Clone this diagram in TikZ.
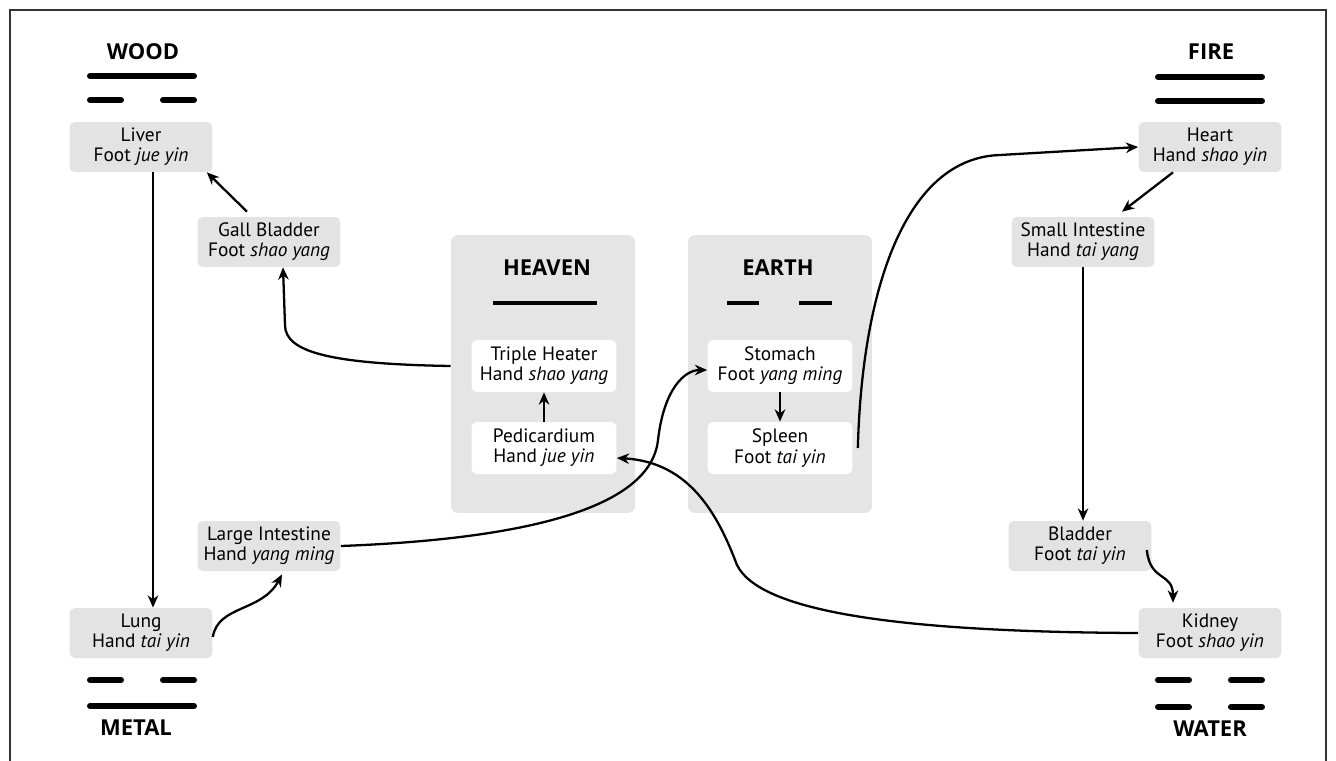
\documentclass[tikz,border=0pt]{standalone}
\usepackage{fontspec}
\setmainfont{PT Sans}
\newfontfamily\titlefont{Open Sans}
\usetikzlibrary{arrows.meta}
\definecolor{boxgray}{HTML}{E3E3E3}
\definecolor{panelgray}{HTML}{E5E5E5}
\begin{document}
\begin{tikzpicture}[x=0.02cm,y=-0.02cm,>={Stealth[length=7pt,width=6pt]},
	organ/.style={fill=boxgray,rounded corners=3pt,minimum width=2.86cm,minimum height=1cm,align=center,inner sep=1pt,font=\fontsize{11}{11.5}\selectfont},
	inner/.style={organ,fill=white,minimum width=2.9cm,minimum height=1.04cm},
	panel/.style={fill=panelgray,rounded corners=4pt,minimum width=3.68cm,minimum height=5.56cm},
	elem/.style={font=\titlefont\bfseries\fontsize{12.5}{14}\selectfont},
	yao/.style={line width=3.4pt,line cap=round},
	link/.style={->,line width=1.3pt}]
		\useasboundingbox (0,0) rectangle (1336,761);
		\draw [line width=0.8pt,color=black!80] (10,761) -- (10,10) -- (1326,10) -- (1326,761);
		\node [panel] at (543,374) (heaven) {};
		\node [panel] at (780,374) (earth) {};
		\foreach \n/\x/\y/\a/\b in {lv/141/147/Liver/Foot \textit{jue yin}, gb/269/242/Gall Bladder/Foot \textit{shao yang}, li/269/546/Large Intestine/Hand \textit{yang ming}, lg/141/633/Lung/Hand \textit{tai yin}, ht/1210/147/Heart/Hand \textit{shao yin}, si/1083/242/Small Intestine/Hand \textit{tai yang}, bl/1080/546/Bladder/Foot \textit{tai yin}, kd/1210/633/Kidney/Foot \textit{shao yin}}
			\node [organ] at (\x,\y) (\n) {\a\\\b};
		\foreach \n/\x/\y/\a/\b in {th/544/366/Triple Heater/Hand \textit{shao yang}, pd/544/448/Pedicardium/Hand \textit{jue yin}, st/780/366/Stomach/Foot \textit{yang ming}, sp/780/448/Spleen/Foot \textit{tai yin}}
			\node [inner] at (\x,\y) (\n) {\a\\\b};
		\foreach \n/\x/\y/\t in {wood/143/52/WOOD, metal/136/728/METAL, fire/1211/52/FIRE, water/1210/729/WATER, heavenlbl/547/268/HEAVEN, earthlbl/778/268/EARTH}
			\node [elem] at (\x,\y) (\n) {\t};
		\foreach \a/\b/\y in {90/194/76, 90/121/100, 163/194/100, 90/121/680, 163/194/680, 90/194/706, 1158/1262/77, 1158/1262/101, 1158/1189/680, 1231/1262/680, 1158/1189/707, 1231/1262/707}
			\draw [yao] (\a,\y) -- (\b,\y);
		\foreach \a/\b in {493/597, 727/759, 799/832}
			\draw [line width=1.8pt] (\a,303) -- (\b,303);
		\draw [link] ([xshift=0.24cm]lv.south) -- ([xshift=0.24cm]lg.north);
		\draw [link] ([xshift=-0.44cm,yshift=0.1cm]gb.north) -- ([xshift=-0.12cm]lv.south east);
		\draw [link] (th.west -| heaven.west) .. controls (330,364) and (285,352) .. (285,325) -- ([xshift=0.28cm]gb.south);
		\draw [link] (pd.north) -- (th.south);
		\draw [link] (st.south) -- (sp.north);
		\draw [link] ([yshift=-0.08cm]lg.east) .. controls (218,605) and (262,612) .. ([xshift=0.26cm,yshift=-0.06cm]li.south);
		\draw [link] (li.east) .. controls (500,540) and (650,515) .. (658,440) .. controls (664,388) and (685,370) .. ([yshift=-0.08cm]st.west);
		\draw [link] (kd.west) .. controls (900,632) and (760,612) .. (737,565) .. controls (718,515) and (690,462) .. ([yshift=-0.2cm]pd.east);
		\draw [link] ([xshift=0.1cm]sp.east) .. controls (862,290) and (905,158) .. (1000,155) -- (ht.west);
		\draw [link] ([xshift=-0.74cm]ht.south) -- ([xshift=0.78cm,yshift=0.1cm]si.north);
		\draw [link] (si.south) -- (si.south |- bl.north);
		\draw [link] ([xshift=-0.1cm,yshift=-0.08cm]bl.east) .. controls (1150,582) and (1173,572) .. ([xshift=-0.74cm,yshift=0.1cm]kd.north);
	\end{tikzpicture}
\end{document}
